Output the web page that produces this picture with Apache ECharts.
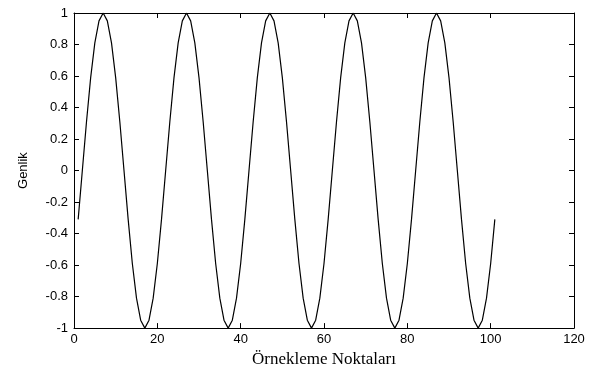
<!DOCTYPE html>
<html>
<head>
<meta charset="utf-8">
<script src="https://cdn.jsdelivr.net/npm/echarts@6/dist/echarts.min.js"></script>
<style>
  html, body { margin: 0; padding: 0; background: #fff; }
  #chart { width: 597px; height: 373px; }
</style>
</head>
<body>
<div id="chart"></div>
<script>
// sample indices 1..101
var sampleX = [];
for (var i = 1; i <= 101; i++) sampleX.push(i);

// amplitude
var amplitude = [
    -0.31, 0, 0.31, 0.59, 0.81, 0.95, 1, 0.95, 0.81, 0.59, 0.31, 0, -0.31, -0.59, -0.81, -0.95, -1, -0.95, -0.81, -0.59,
    -0.31, 0, 0.31, 0.59, 0.81, 0.95, 1, 0.95, 0.81, 0.59, 0.31, 0, -0.31, -0.59, -0.81, -0.95, -1, -0.95, -0.81, -0.59,
    -0.31, 0, 0.31, 0.59, 0.81, 0.95, 1, 0.95, 0.81, 0.59, 0.31, 0, -0.31, -0.59, -0.81, -0.95, -1, -0.95, -0.81, -0.59,
    -0.31, 0, 0.31, 0.59, 0.81, 0.95, 1, 0.95, 0.81, 0.59, 0.31, 0, -0.31, -0.59, -0.81, -0.95, -1, -0.95, -0.81, -0.59,
    -0.31, 0, 0.31, 0.59, 0.81, 0.95, 1, 0.95, 0.81, 0.59, 0.31, 0, -0.31, -0.59, -0.81, -0.95, -1, -0.95, -0.81, -0.59,
    -0.31
];

var xTitle = 'Örnekleme Noktaları';
var yTitle = 'Genlik';

var chart = echarts.init(document.getElementById('chart'));

var labelFont = { color: '#000', fontFamily: 'Liberation Sans, Arial', fontSize: 13 };
var tickStyle = { show: true, inside: true, length: 5, lineStyle: { color: '#000', width: 1 } };
var lineStyle = { show: true, onZero: false, lineStyle: { color: '#000', width: 1 } };

var points = [];
for (var k = 0; k < sampleX.length; k++) points.push([sampleX[k], amplitude[k]]);

chart.setOption({
    animation: false,
    backgroundColor: '#fff',
    grid: { left: 74, right: 23, top: 13, bottom: 42 },
    xAxis: [
        {
            type: 'value', min: 0, max: 120, interval: 20, position: 'bottom',
            axisLine: lineStyle, axisTick: tickStyle, splitLine: { show: false },
            axisLabel: Object.assign({ margin: 5 }, labelFont),
            name: xTitle, nameLocation: 'middle', nameGap: 21,
            nameTextStyle: { color: '#000', fontFamily: 'Liberation Serif, Times New Roman', fontSize: 17 }
        },
        {
            type: 'value', min: 0, max: 120, interval: 20, position: 'top',
            axisLine: lineStyle, axisTick: tickStyle, splitLine: { show: false },
            axisLabel: { show: false }
        }
    ],
    yAxis: [
        {
            type: 'value', min: -1, max: 1, interval: 0.2, position: 'left',
            axisLine: lineStyle, axisTick: tickStyle, splitLine: { show: false },
            axisLabel: Object.assign({ margin: 6, formatter: function (v) { return +v.toFixed(1) + ''; } }, labelFont),
            name: yTitle, nameLocation: 'middle', nameGap: 44, nameRotate: 90,
            nameTextStyle: { color: '#000', fontFamily: 'Liberation Sans, Arial', fontSize: 13 }
        },
        {
            type: 'value', min: -1, max: 1, interval: 0.2, position: 'right',
            axisLine: lineStyle, axisTick: tickStyle, splitLine: { show: false },
            axisLabel: { show: false }
        }
    ],
    series: [
        {
            type: 'line',
            data: points,
            showSymbol: false,
            symbol: 'none',
            lineStyle: { color: '#000', width: 1.2 }
        }
    ]
});
</script>
</body>
</html>
